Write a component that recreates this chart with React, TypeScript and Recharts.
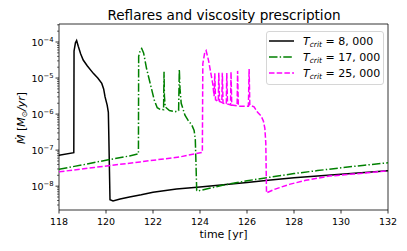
import React from 'react';
import { LineChart, Line, XAxis, YAxis, ReferenceArea, Legend } from 'recharts';

// ---------- data ----------
const blackTimes = [118.0, 118.63, 118.64, 118.7, 118.75, 118.82, 118.92, 119.03, 119.2, 119.46, 119.65, 119.82, 119.9, 119.96, 120.05, 120.1, 120.12, 120.17, 120.3, 120.6, 121.0, 121.5, 122.0, 123.0, 124.0, 125.0, 126.0, 127.0, 128.0, 129.0, 130.0, 131.0, 132.0];
const blackRates = [7.24e-8, 8.5e-8, 5.6e-5, 9.5e-5, 1.1e-4, 7.6e-5, 4.7e-5, 3.16e-5, 2.19e-5, 1.35e-5, 1.0e-5, 7.1e-6, 5.0e-6, 3.0e-6, 1.78e-6, 1.12e-6, 2.5e-7, 4.2e-9, 3.9e-9, 4.4e-9, 5.0e-9, 5.75e-9, 6.76e-9, 8.3e-9, 9.5e-9, 1.1e-8, 1.26e-8, 1.48e-8, 1.7e-8, 1.9e-8, 2.14e-8, 2.4e-8, 2.66e-8];

const greenTimes = [118.0, 119.0, 120.0, 121.0, 121.38, 121.39, 121.45, 121.52, 121.6, 121.73, 121.9, 122.05, 122.18, 122.3, 122.45, 122.47, 122.485, 122.52, 122.7, 122.95, 123.09, 123.12, 123.15, 123.2, 123.36, 123.5, 123.65, 123.75, 123.8, 123.83, 123.86, 123.92, 124.4, 125.0, 126.0, 127.0, 128.0, 129.0, 130.0, 131.0, 132.0];
const greenRates = [2.95e-8, 3.9e-8, 5.25e-8, 6.9e-8, 7.9e-8, 4.0e-5, 5.6e-5, 6.6e-5, 5.0e-5, 1.78e-5, 6.3e-6, 2.5e-6, 1.5e-6, 1.35e-6, 1.32e-6, 1.5e-5, 3.16e-6, 1.58e-6, 1.26e-6, 1.17e-6, 1.26e-6, 1.74e-5, 5.0e-6, 2.0e-6, 9.3e-7, 6.6e-7, 5.0e-7, 3.5e-7, 2.0e-7, 4.0e-8, 7.6e-9, 7.4e-9, 8.7e-9, 1.07e-8, 1.41e-8, 1.78e-8, 2.24e-8, 2.7e-8, 3.24e-8, 3.8e-8, 4.47e-8];

const magentaTimes = [118.0, 119.5, 121.45, 123.15, 124.1, 124.12, 124.2, 124.26, 124.36, 124.45, 124.54, 124.6, 124.63, 124.66, 124.78, 124.8, 124.83, 124.93, 124.95, 124.98, 125.12, 125.14, 125.17, 125.3, 125.32, 125.35, 125.58, 125.6, 125.63, 126.06, 126.09, 126.12, 126.3, 126.45, 126.6, 126.7, 126.76, 126.8, 126.83, 127.2, 127.8, 128.5, 129.5, 130.5, 131.3, 132.0];
const magentaRates = [2.5e-8, 3.3e-8, 4.7e-8, 6.5e-8, 8.7e-8, 2.5e-5, 5.0e-5, 5.75e-5, 3.16e-5, 1.5e-5, 7.1e-6, 3.16e-6, 1.35e-5, 2.5e-6, 2.24e-6, 1.41e-5, 2.24e-6, 2.1e-6, 1.41e-5, 2.0e-6, 1.9e-6, 1.38e-5, 1.9e-6, 1.78e-6, 1.48e-5, 1.78e-6, 1.7e-6, 1.58e-5, 1.66e-6, 1.66e-6, 1.78e-5, 1.78e-6, 1.58e-6, 1.12e-6, 8.9e-7, 6.3e-7, 4.0e-7, 1.58e-7, 6.5e-9, 8.3e-9, 1.12e-8, 1.45e-8, 1.9e-8, 2.16e-8, 2.4e-8, 2.66e-8];

const seriesNames = ['8, 000', '17, 000', '25, 000'];
const xTicks = [118, 120, 122, 124, 126, 128, 130, 132];
const yMajorTicks = [1e-8, 1e-7, 1e-6, 1e-5, 1e-4];
const yMajorExponents = ['\u22128', '\u22127', '\u22126', '\u22125', '\u22124'];
const yMinorTicks = [
  3e-9, 4e-9, 5e-9, 6e-9, 7e-9, 8e-9, 9e-9,
  2e-8, 3e-8, 4e-8, 5e-8, 6e-8, 7e-8, 8e-8, 9e-8,
  2e-7, 3e-7, 4e-7, 5e-7, 6e-7, 7e-7, 8e-7, 9e-7,
  2e-6, 3e-6, 4e-6, 5e-6, 6e-6, 7e-6, 8e-6, 9e-6,
  2e-5, 3e-5, 4e-5, 5e-5, 6e-5, 7e-5, 8e-5, 9e-5,
  2e-4, 3e-4,
];
const xDomain = [118, 132];
const yDomain = [2.18e-9, 3.16e-4];

// ---------- styles ----------
const FONT = 'DejaVu Sans';
const colors = ['#000000', '#008000', '#ff00ff'];
const dashes = [undefined, '8.5 2.2 1.4 2.2', '5.5 2.2'];

const toPoints = (times: number[], rates: number[]) => times.map((t, i) => ({ t, v: rates[i] }));
const seriesData = [
  toPoints(blackTimes, blackRates),
  toPoints(greenTimes, greenRates),
  toPoints(magentaTimes, magentaRates),
];
const allYTicks = [...yMajorTicks, ...yMinorTicks].sort((a, b) => a - b);

const YTick = (props: any) => {
  const { x, y, payload } = props;
  const v = payload.value;
  const idx = yMajorTicks.findIndex((m) => Math.abs(m - v) / m < 1e-6);
  const major = idx >= 0;
  return (
    <g>
      <line x1={x - (major ? 3.5 : 2)} x2={x} y1={y} y2={y} stroke="#000" strokeWidth={major ? 0.8 : 0.6} />
      {major && (
        <text x={x - 5.5} y={y + 4} textAnchor="end" fontSize={9.5} fontFamily={FONT} fill="#000">
          <tspan>10</tspan>
          <tspan dy={-4.5} fontSize={6.8}>{yMajorExponents[idx]}</tspan>
        </text>
      )}
    </g>
  );
};

const XTick = (props: any) => {
  const { x, y, payload } = props;
  return (
    <g>
      <line x1={x} x2={x} y1={y} y2={y + 3.5} stroke="#000" strokeWidth={0.8} />
      <text x={x} y={y + 14.5} textAnchor="middle" fontSize={9.5} fontFamily={FONT} fill="#000">
        {payload.value}
      </text>
    </g>
  );
};

const LegendBox = () => (
  <svg width={118} height={54} style={{ display: 'block' }}>
    <rect x={0.5} y={0.5} width={117} height={53} rx={2.5} fill="#fff" fillOpacity={0.8} stroke="#cccccc" strokeWidth={0.8} />
    {seriesNames.map((name, i) => (
      <g key={name}>
        <line x1={3} x2={28} y1={10 + 16 * i} y2={10 + 16 * i} stroke={colors[i]} strokeWidth={1.5} strokeDasharray={dashes[i]} />
        <text x={37} y={14 + 16 * i} fontSize={11} fontFamily={FONT} fill="#000">
          <tspan fontStyle="italic">T</tspan>
          <tspan fontStyle="italic" fontSize={7.5} dy={2}>crit</tspan>
          <tspan dy={-2}>{' = ' + name}</tspan>
        </text>
      </g>
    ))}
  </svg>
);

export default function App() {
  return (
    <div style={{ position: 'absolute', left: 0, top: 0, background: '#fff' }}>
      <LineChart width={407} height={251} margin={{ top: 24, right: 19, bottom: 0, left: 0 }}>
        <XAxis
          dataKey="t"
          type="number"
          domain={xDomain}
          ticks={xTicks}
          interval={0}
          allowDataOverflow
          height={41}
          axisLine={false}
          tickLine={false}
          tickSize={0}
          tickMargin={0}
          tick={<XTick />}
        />
        <YAxis
          dataKey="v"
          type="number"
          scale="log"
          domain={yDomain}
          ticks={allYTicks}
          interval={0}
          allowDataOverflow
          width={59}
          axisLine={false}
          tickLine={false}
          tickSize={0}
          tickMargin={0}
          tick={<YTick />}
        />
        {seriesData.map((d, i) => (
          <Line
            key={seriesNames[i]}
            data={d}
            dataKey="v"
            name={seriesNames[i]}
            type="linear"
            stroke={colors[i]}
            strokeWidth={1.5}
            strokeDasharray={dashes[i]}
            dot={false}
            activeDot={false}
            isAnimationActive={false}
          />
        ))}
        <ReferenceArea
          x1={xDomain[0]}
          x2={xDomain[1]}
          y1={yDomain[0]}
          y2={yDomain[1]}
          fill="none"
          fillOpacity={0}
          stroke="#000"
          strokeWidth={0.8}
          ifOverflow="visible"
        />
        <Legend
          layout="horizontal"
          verticalAlign="middle"
          align="center"
          content={<LegendBox />}
          wrapperStyle={{ left: 266, top: 31, width: 118, height: 54 }}
        />
        <text x={224} y={20} textAnchor="middle" fontSize={13.6} fontFamily={FONT} fill="#000">
          Reflares and viscosity prescription
        </text>
        <text x={223.5} y={237.5} textAnchor="middle" fontSize={11} fontFamily={FONT} fill="#000">
          time [yr]
        </text>
        <text x={25} y={118} transform="rotate(-90 25 118)" textAnchor="middle" fontSize={11} fontFamily={FONT} fill="#000">
          <tspan fontStyle="italic">{'M\u0307'}</tspan>
          <tspan>{' ['}</tspan>
          <tspan fontStyle="italic">M</tspan>
          <tspan fontSize={7.5} dy={2}>{'\u2299'}</tspan>
          <tspan dy={-2} fontStyle="italic">/yr</tspan>
          <tspan>]</tspan>
        </text>
      </LineChart>
    </div>
  );
}
